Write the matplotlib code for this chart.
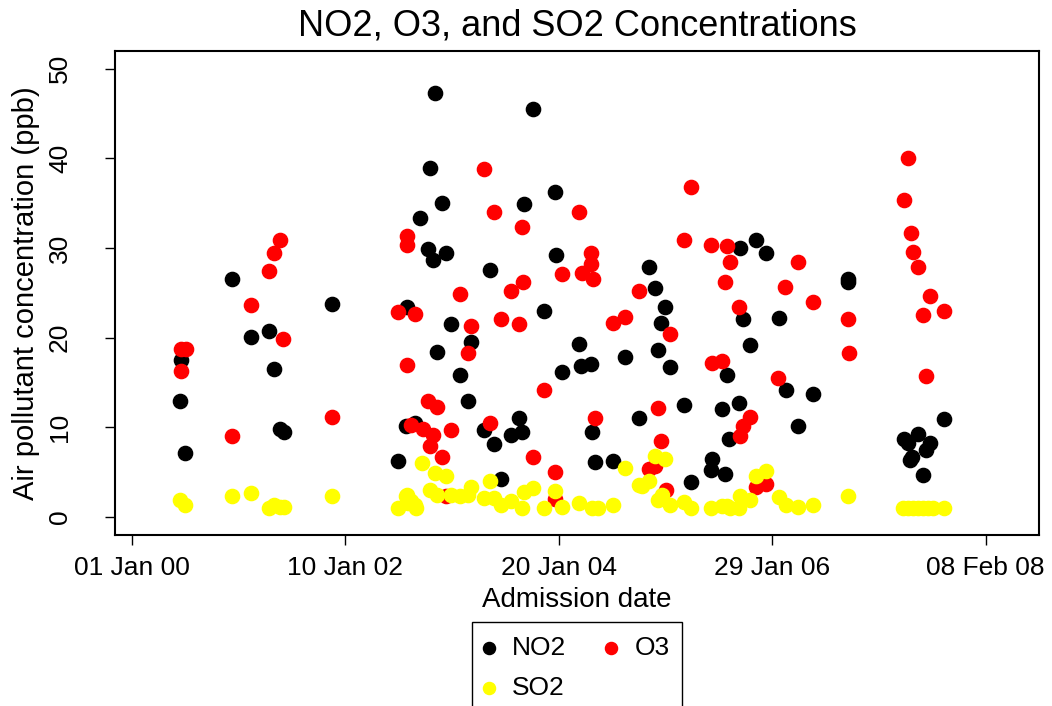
import numpy as np
import pandas as pd
import matplotlib
matplotlib.use('Agg')
import matplotlib.pyplot as plt
import matplotlib.dates as mdates
from matplotlib.patches import Rectangle

plt.rcParams['font.family'] = ['Liberation Sans', 'DejaVu Sans']

start = pd.Timestamp('2000-01-01')

# admission day (days since 01 Jan 2000) and concentration
no2_day = [170, 166, 185, 346, 413, 475, 491, 512, 527, 692,
           953, 950, 982, 921, 999, 1052, 1391, 1033, 1467, 1074, 1358,
           1027, 1043, 1088, 1240, 1470, 1428, 1106, 1176, 1057, 1551, 1558, 1592, 1711,
           1137, 1490, 1164, 1221, 1256, 1343, 1314, 1352, 1595, 1759,
           1607, 1666, 1281,
           2108, 2163, 2199, 1794, 2484, 2484, 1814, 1848, 1834, 2120, 2243, 2142, 1823,
           1865, 2063, 2267, 2360, 1914, 2045, 2104, 2308, 2071, 2012, 2008, 2057, 1937,
           2816, 2675, 2689, 2726, 2768, 2753, 2705, 2698, 2742]
no2_ppb = [17.5, 13.0, 7.1, 26.5, 20.1, 20.7, 16.5, 9.8, 9.5, 23.8,
           23.4, 10.2, 10.5, 6.2, 33.3, 47.3, 45.5, 38.9, 36.2, 35.0, 34.9,
           29.9, 28.7, 29.4, 27.6, 29.2, 23.0, 21.5, 19.5, 18.4, 19.3, 16.9, 17.1, 17.8,
           15.8, 16.2, 13.0, 9.7, 8.2, 11.0, 9.1, 9.5, 9.5, 11.1,
           6.1, 6.2, 4.3,
           30.0, 30.9, 29.5, 27.9, 26.6, 26.2, 25.6, 23.4, 21.7, 22.1, 22.2, 19.2, 18.6,
           16.7, 15.9, 14.2, 13.7, 12.5, 12.0, 12.7, 10.2, 8.7, 6.5, 5.3, 4.8, 3.9,
           10.9, 8.7, 8.3, 9.3, 8.3, 7.5, 6.7, 6.4, 4.7]

o3_day = [169, 187, 170, 413, 475, 491, 512, 525, 346, 692,
          953, 953, 921, 982, 953, 966,
          1221, 1255, 1551, 1351, 1593, 1591, 1598, 1490, 1559, 1759, 1138, 1357, 1314,
          1666, 1711, 1176, 1281, 1343, 1164, 1429, 1027, 1059, 1008, 1043, 1106, 1033,
          1240, 1607, 1074, 1389, 1467, 1467, 1088,
          1937, 1914, 2008, 2064, 2074, 2308, 2057, 2265, 2360, 2104, 2484, 1865, 2485,
          2010, 2047, 2241, 1823, 2142, 2120, 2108, 1834, 1794, 1814, 1851, 2163, 2199,
          2689, 2677, 2701, 2708, 2726, 2768, 2742, 2816, 2753]
o3_ppb = [18.8, 18.8, 16.3, 23.6, 27.4, 29.4, 30.9, 19.9, 9.0, 11.2,
          31.4, 30.4, 22.9, 22.6, 17.0, 10.3,
          38.8, 34.0, 34.0, 32.3, 29.4, 28.2, 26.6, 27.1, 27.2, 25.2, 24.9, 26.2, 25.2,
          21.7, 22.3, 21.3, 22.1, 21.5, 18.3, 14.2, 12.9, 12.3, 9.8, 9.2, 9.7, 7.9,
          10.5, 11.1, 6.7, 6.7, 5.0, 2.0, 2.4,
          36.8, 30.9, 30.3, 30.2, 28.4, 28.5, 26.2, 25.7, 24.0, 23.4, 22.1, 20.4, 18.3,
          17.2, 17.4, 15.5, 12.2, 11.2, 10.2, 9.0, 8.5, 5.4, 5.7, 3.0, 3.3, 3.7,
          40.0, 35.4, 31.7, 29.6, 27.9, 24.7, 22.5, 23.0, 15.7]

so2_day = [166, 185, 346, 413, 475, 491, 512, 527, 692,
           950, 921, 966, 982,
           1007, 1051, 1088, 1240, 1711, 1759,
           953, 958, 985, 1033, 1059, 1106, 1138, 1164, 1176, 1221, 1256, 1281, 1314,
           1351, 1358, 1391, 1429, 1467, 1490, 1551, 1595, 1615, 1666,
           1813, 1848, 1768, 1794, 2163, 2199, 1823, 1837, 1865, 1914, 1937, 2008, 2045,
           2063, 2074, 2104, 2108, 2142, 2243, 2267, 2308, 2360, 2484,
           2674, 2691, 2708, 2726, 2743, 2760, 2778, 2816]
so2_ppb = [1.9, 1.4, 2.4, 2.7, 1.0, 1.4, 1.1, 1.1, 2.4,
           2.4, 1.0, 1.8, 1.3,
           6.0, 4.9, 4.6, 4.0, 5.5, 3.6,
           2.5, 1.6, 1.0, 3.0, 2.5, 2.5, 2.4, 2.5, 3.3, 2.1, 2.1, 1.3, 1.8,
           1.0, 2.8, 3.2, 1.0, 2.9, 1.1, 1.6, 1.0, 1.0, 1.3,
           6.8, 6.5, 3.5, 4.0, 4.6, 5.1, 1.9, 2.5, 1.3, 1.7, 1.0, 1.0, 1.2,
           1.2, 1.0, 1.0, 2.4, 1.9, 2.2, 1.3, 1.1, 1.3, 2.4,
           1.0, 1.0, 1.0, 1.0, 1.0, 1.0, 1.0, 1.0]

tick_dates = ['2000-01-01', '2002-01-10', '2004-01-20', '2006-01-29', '2008-02-08']


def to_dates(days):
    return start + pd.to_timedelta(np.array(days), unit='D')


fig = plt.figure(figsize=(10.52, 7.06), dpi=100)
ax = fig.add_axes([0.1097, 0.2422, 0.878, 0.6858])

h1 = ax.scatter(to_dates(no2_day), no2_ppb, s=105, c='black', label='NO2', zorder=3)
h2 = ax.scatter(to_dates(o3_day), o3_ppb, s=105, c='#ff0000', label='O3', zorder=3)
h3 = ax.scatter(to_dates(so2_day), so2_ppb, s=105, c='#ffff00', label='SO2', zorder=3)

ax.set_xlim(start - pd.Timedelta(days=57.6), start + pd.Timedelta(days=3145))
ax.set_ylim(-2, 52)
ax.set_xticks(pd.to_datetime(tick_dates))
ax.xaxis.set_major_formatter(mdates.DateFormatter('%d %b %y'))
ax.set_yticks([0, 10, 20, 30, 40, 50])
for lab in ax.get_yticklabels():
    lab.set_rotation(90)
    lab.set_va('center')

ax.tick_params(axis='both', direction='out', length=7.2, width=1.0, labelsize=19)
ax.tick_params(axis='x', pad=8)
ax.tick_params(axis='y', pad=24)
for sp in ax.spines.values():
    sp.set_linewidth(1.5)

ax.set_title('NO2, O3, and SO2 Concentrations', fontsize=26, pad=11)
ax.set_xlabel('Admission date', fontsize=20, labelpad=5)
ax.set_ylabel('Air pollutant concentration (ppb)', fontsize=21, labelpad=6)

# legend box runs off the bottom of the figure, as in the original
fig.patches.append(Rectangle((472 / 1052, -0.02), 210 / 1052, (706 - 622) / 706 + 0.02,
                             transform=fig.transFigure, fill=False, edgecolor='black',
                             linewidth=1.0))
leg = fig.legend([h1, h3, h2], ['NO2', 'SO2', 'O3'], loc='upper left',
                 bbox_to_anchor=(478 / 1052, 1 - 636 / 706), ncol=2,
                 fontsize=19, markerscale=0.85, frameon=False,
                 handlelength=0.8, handletextpad=0.5, columnspacing=1.3,
                 borderpad=0, labelspacing=0.6, borderaxespad=0)

fig.savefig('out.png', dpi=100)
